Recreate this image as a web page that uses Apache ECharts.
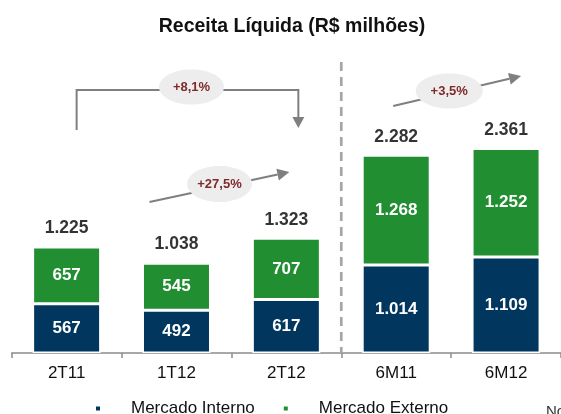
<!DOCTYPE html>
<html>
<head>
<meta charset="utf-8">
<script src="https://cdn.jsdelivr.net/npm/echarts@6/dist/echarts.min.js"></script>
<style>
html, body { margin: 0; padding: 0; background: #fff; }
#chart { width: 561px; height: 414px; }
</style>
</head>
<body>
<div id="chart"></div>
<script>
var categorias = ['2T11', '1T12', '2T12', '6M11', '6M12'];
var mercadoInterno = [567, 492, 617, 1014, 1109];
var mercadoExterno = [657, 545, 707, 1268, 1252];
var totais = [1225, 1038, 1323, 2282, 2361];
var variacoes = ['+8,1%', '+27,5%', '+3,5%'];

var azul = '#01375E';
var verde = '#228E32';
var fonte = '"Liberation Sans", Arial, sans-serif';

function fmt(v) {
    return String(v).replace(/\B(?=(\d{3})+(?!\d))/g, '.');
}

var chart = echarts.init(document.getElementById('chart'));

chart.setOption({
    animation: false,
    title: {
        text: 'Receita Líquida (R$ milhões)',
        left: 287,
        top: 12,
        textAlign: 'center',
        textStyle: { fontFamily: fonte, fontSize: 19.5, fontWeight: 'bold', color: '#111' }
    },
    legend: {
        left: 89,
        top: 395,
        icon: 'rect',
        itemWidth: 6,
        itemHeight: 6,
        itemGap: 27,
        data: ['Mercado Interno', 'Mercado Externo'],
        textStyle: { fontFamily: fonte, fontSize: 17, color: '#111', padding: [6, 0, 0, 25] }
    },
    grid: { left: 11.7, right: -4, top: 93, bottom: 61 },
    xAxis: {
        type: 'category',
        data: categorias,
        axisLine: { lineStyle: { color: '#8c8c8c', width: 1.5 } },
        axisTick: { show: true, length: 5, lineStyle: { color: '#8c8c8c', width: 1.5 } },
        axisLabel: { fontFamily: fonte, fontSize: 17, color: '#111', margin: 12 }
    },
    yAxis: { type: 'value', min: 0, max: 3000, show: false },
    series: [
        {
            name: 'Mercado Interno',
            type: 'bar',
            stack: 'total',
            barWidth: 68,
            data: mercadoInterno,
            itemStyle: { color: azul, borderColor: '#fff', borderWidth: 1.5 },
            label: {
                show: true, position: 'inside', color: '#fff',
                fontFamily: fonte, fontSize: 17, fontWeight: 'bold',
                formatter: function (p) { return fmt(p.value); }
            }
        },
        {
            name: 'Mercado Externo',
            type: 'bar',
            stack: 'total',
            barWidth: 68,
            data: mercadoExterno,
            itemStyle: { color: verde, borderColor: '#fff', borderWidth: 1.5 },
            label: {
                show: true, position: 'inside', color: '#fff',
                fontFamily: fonte, fontSize: 17, fontWeight: 'bold',
                formatter: function (p) { return fmt(p.value); }
            }
        },
        {
            name: 'Total',
            type: 'scatter',
            symbolSize: 0,
            data: totais,
            silent: true,
            label: {
                show: true, position: 'top', distance: 10, color: '#000',
                fontFamily: fonte, fontSize: 17.5, fontWeight: 'bold', lineHeight: 17,
                formatter: function (p) { return fmt(p.value); }
            }
        }
    ]
});

// anotacoes
var cx = categorias.map(function (c) { return chart.convertToPixel({ xAxisIndex: 0 }, c); });
var y0 = chart.convertToPixel({ yAxisIndex: 0 }, 0);
var cinza = '#7f7f7f';

function ponta(x1, y1, x2, y2) {
    var a = Math.atan2(y2 - y1, x2 - x1);
    var len = 12, half = 6;
    var bx = x2 - len * Math.cos(a), by = y2 - len * Math.sin(a);
    return {
        base: [bx, by],
        pts: [[x2, y2], [bx + half * Math.sin(a), by - half * Math.cos(a)], [bx - half * Math.sin(a), by + half * Math.cos(a)]]
    };
}

function seta(x1, y1, x2, y2) {
    var p = ponta(x1, y1, x2, y2);
    return [
        { type: 'polyline', z: 10, shape: { points: [[x1, y1], p.base] }, style: { stroke: cinza, lineWidth: 2, fill: null } },
        { type: 'polygon', z: 10, shape: { points: p.pts }, style: { fill: cinza } }
    ];
}

function balao(x, y, rx, ry, txt) {
    return [
        { type: 'ellipse', z: 11, shape: { cx: x, cy: y, rx: rx, ry: ry }, style: { fill: '#ededed' } },
        { type: 'text', z: 12, x: x, y: y, style: { text: txt, fill: '#7f2a2a', font: 'bold 13px ' + fonte, align: 'center', verticalAlign: 'middle' } }
    ];
}

var el = [];
var sepX = (cx[2] + cx[3]) / 2;
el.push({ type: 'line', z: 5, shape: { x1: sepX, y1: 62, x2: sepX, y2: y0 }, style: { stroke: '#a6a6a6', lineWidth: 2.7, lineDash: [9, 6] } });

// colchete +8,1%
var bl = cx[0] + 10, br = cx[2] + 12;
el.push({ type: 'polyline', z: 10, shape: { points: [[bl, 130], [bl, 90], [br, 90], [br, 118]] }, style: { stroke: cinza, lineWidth: 2, fill: null } });
el.push({ type: 'polygon', z: 10, shape: { points: [[br, 128], [br - 6, 117], [br + 6, 117]] }, style: { fill: cinza } });
el = el.concat(balao((bl + br) / 2 + 4, 87, 32.5, 17.5, variacoes[0]));

// +27,5%
el = el.concat(seta(cx[1] - 27, 202, cx[2] + 3, 172));
el = el.concat(balao(cx[1] + 43, 184, 32.5, 18, variacoes[1]));

// +3,5%
el = el.concat(seta(cx[3] - 3, 106, cx[4] + 15, 76));
el = el.concat(balao(cx[3] + 53, 91, 33.5, 17.5, variacoes[2]));

el.push({ type: 'text', z: 12, x: 546, y: 404, style: { text: 'Nota', fill: '#333', font: '15px ' + fonte } });

chart.setOption({ graphic: { elements: el } });
</script>
</body>
</html>
